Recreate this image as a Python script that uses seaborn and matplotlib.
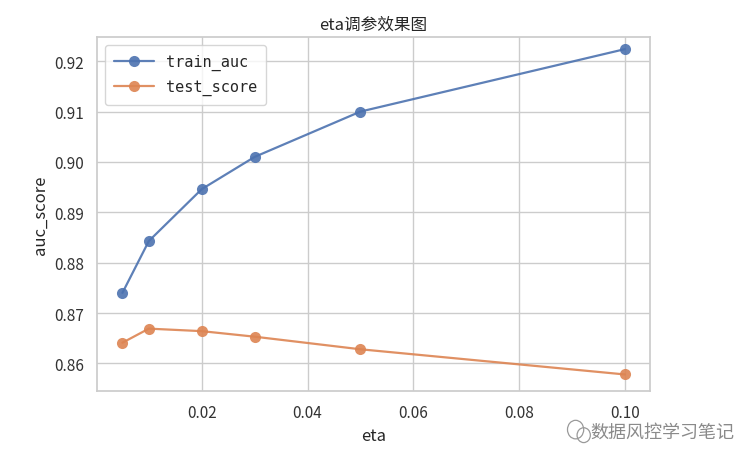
import matplotlib
matplotlib.use("Agg")
import matplotlib.pyplot as plt
from matplotlib.patches import Ellipse
import pandas as pd
import seaborn as sns

eta = [0.005, 0.01, 0.02, 0.03, 0.05, 0.1]
train_auc = [0.8740, 0.8843, 0.8946, 0.9010, 0.9100, 0.9224]
test_score = [0.8641, 0.8669, 0.8664, 0.8653, 0.8628, 0.8578]

sns.set_theme(style="whitegrid")
plt.rcParams["font.family"] = ["Noto Sans CJK SC", "DejaVu Sans"]
plt.rcParams["axes.unicode_minus"] = False

df = pd.DataFrame({"eta": eta, "train_auc": train_auc, "test_score": test_score})
long_df = df.melt(id_vars="eta", var_name="series", value_name="auc_score")

fig, ax = plt.subplots(figsize=(7.37, 4.64), dpi=100)
fig.subplots_adjust(left=0.132, right=0.882, top=0.918, bottom=0.155)

sns.lineplot(
    data=long_df,
    x="eta",
    y="auc_score",
    hue="series",
    marker="o",
    markersize=8,
    markeredgewidth=0,
    linewidth=1.6,
    alpha=0.9,
    ax=ax,
)

ax.set_ylim(0.8545, 0.9248)
ax.set_title("eta调参效果图", fontsize=12)
ax.set_xlabel("eta", fontsize=12)
ax.set_ylabel("auc_score", fontsize=12)
ax.set_xticks([0.02, 0.04, 0.06, 0.08, 0.10])
ax.set_xticklabels(["0.02", "0.04", "0.06", "0.08", "0.10"])
ax.set_yticks([0.86, 0.87, 0.88, 0.89, 0.90, 0.91, 0.92])
ax.set_yticklabels(["0.86", "0.87", "0.88", "0.89", "0.90", "0.91", "0.92"])
ax.tick_params(labelsize=11, colors="#333333")

leg = ax.legend(loc="upper left", fontsize=11, frameon=True, handlelength=2.6,
                borderpad=0.6, labelspacing=0.6)
leg.set_title(None)
for text in leg.get_texts():
    text.set_family("DejaVu Sans Mono")

# watermark
fig.text(0.997, 0.067, "数据风控学习笔记", ha="right", va="center",
         fontsize=13, color="#8a8a8a")
for cx, cy, w, h in [(0.781, 0.072, 0.022, 0.040), (0.792, 0.060, 0.018, 0.032)]:
    fig.add_artist(Ellipse((cx, cy), w, h, transform=fig.transFigure,
                           fill=False, edgecolor="#9a9a9a", linewidth=0.9))

fig.savefig("out.png", dpi=100)
